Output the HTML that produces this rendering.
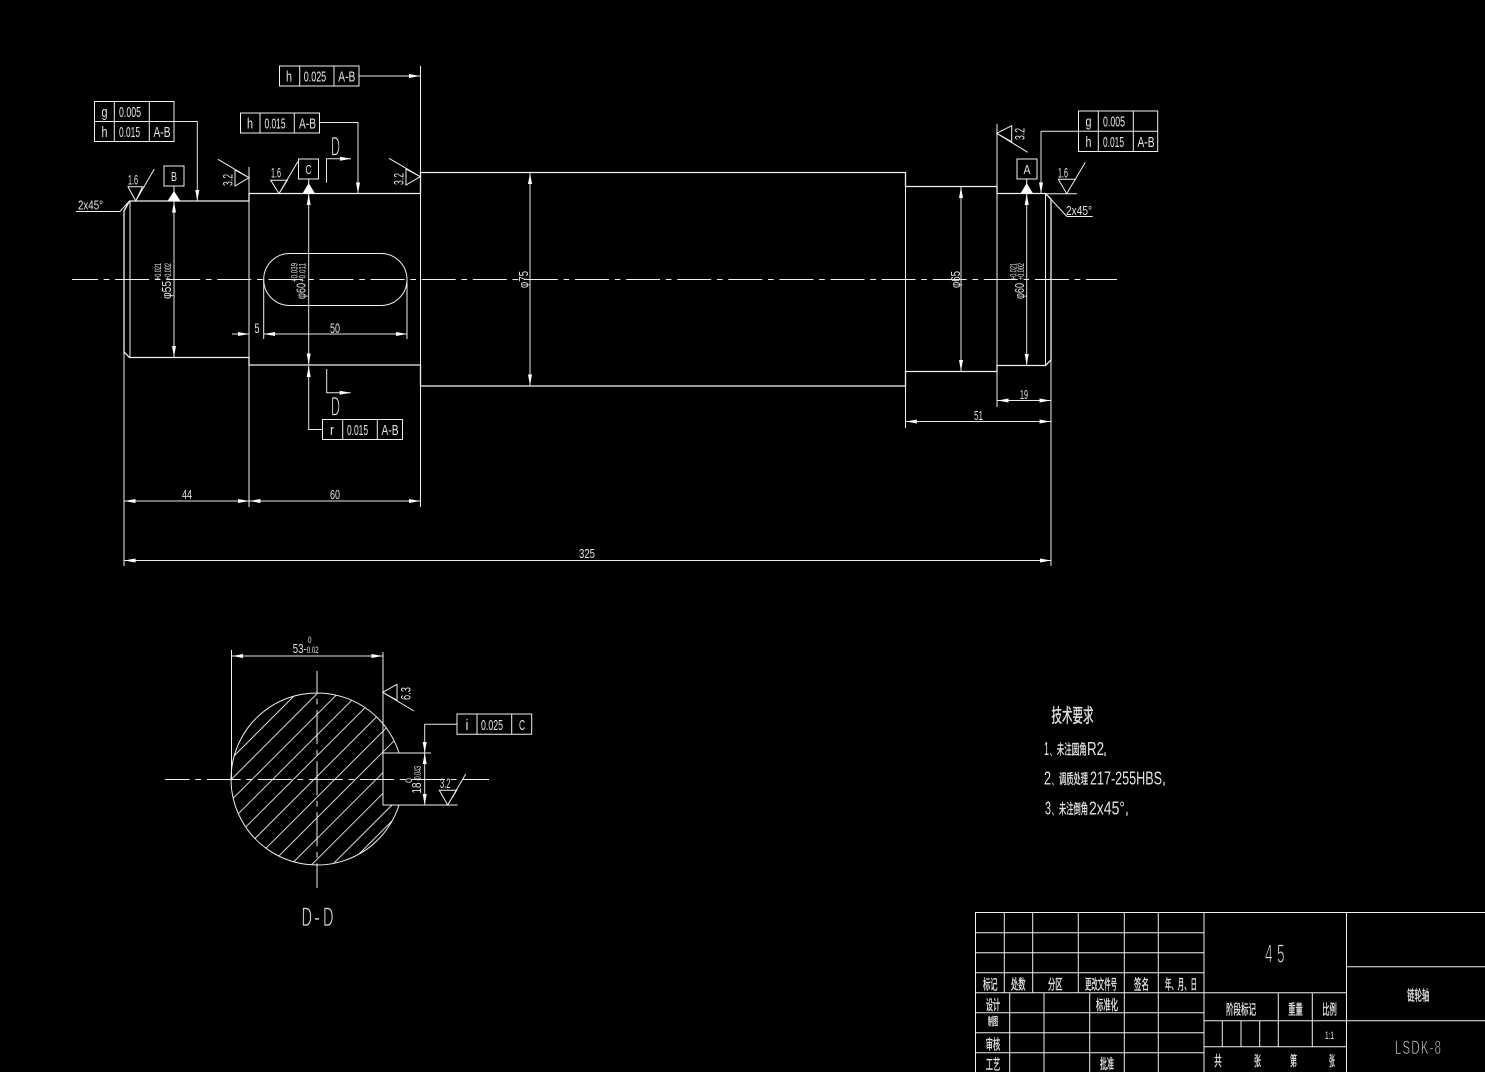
<!DOCTYPE html>
<html><head><meta charset="utf-8"><style>
html,body{margin:0;padding:0;background:#000;width:1485px;height:1072px;overflow:hidden}
svg{display:block}
text{font-family:"Liberation Sans","Noto Sans CJK SC",sans-serif;fill:#e4e4e4;stroke:none}
.l{stroke:#f0f0f0;stroke-width:1;fill:none}
.m{stroke:#f0f0f0;stroke-width:1.3;fill:none}
.c{stroke:#f0f0f0;stroke-width:1;fill:none;stroke-dasharray:34 5.7 5.7 5.7}
.h{stroke:#d8d8d8;stroke-width:1;fill:none}
.a{stroke:#e8e8e8;stroke-width:1;fill:none;marker-start:url(#ar);marker-end:url(#ar)}
.e{stroke:#e8e8e8;stroke-width:1;fill:none;marker-end:url(#ar)}
.f{fill:#fff;stroke:none}
.t{font-size:15px}.d{font-size:13px}.s{font-size:9px}
text.cn{font-size:14px;stroke:#e4e4e4;stroke-width:.35}
text.b{stroke:#000;stroke-width:.7}
</style></head><body>
<svg width="1485" height="1072" viewBox="0 0 1485 1072" xmlns="http://www.w3.org/2000/svg">
<defs>
<marker id="ar" markerUnits="userSpaceOnUse" markerWidth="12" markerHeight="6" refX="11" refY="3" orient="auto-start-reverse"><path d="M0 1L11 3L0 5z" fill="#fff"/></marker>
<clipPath id="sec"><path d="M399 753A86 86 0 1 0 399 805L383 805L383 753Z"/></clipPath>
</defs>

<!-- shaft outline -->
<path class="m" d="M124 211L129.5 201H249V193.5H420.5V172.5H905.5V186.5H997V193.5H1045.5L1051 199V360L1045.5 365.5H997V371.5H905.5V386H420.5V365H249V357.5H129.5L124 352Z"/>
<path class="l" d="M130 201V357.5M249 167V507M420.5 66V507M997 124V407M1045.5 194V365M905.5 172.5V428M124 352V566M1051 360V566M1051 199V360"/>
<rect class="l" x="263.7" y="253.5" width="143.3" height="52" rx="26" ry="26"/>
<path class="l" d="M263.7 279V339M407 279V339"/>
<line class="c" x1="72" y1="279.5" x2="1117" y2="279.5" stroke-dashoffset="8"/>

<!-- dimensions -->
<line class="a" x1="174" y1="201.5" x2="174" y2="357"/>
<line class="a" x1="308.7" y1="194" x2="308.7" y2="364.5"/>
<line class="a" x1="530" y1="173" x2="530" y2="385.5"/>
<line class="a" x1="961" y1="187" x2="961" y2="371"/>
<line class="a" x1="1026.7" y1="194" x2="1026.7" y2="365"/>
<line class="e" x1="232" y1="334" x2="249" y2="334"/>
<line class="a" x1="264" y1="334" x2="407" y2="334"/>
<line class="a" x1="124.5" y1="501" x2="249" y2="501"/>
<line class="a" x1="249.5" y1="501" x2="420" y2="501"/>
<line class="a" x1="124.5" y1="560.5" x2="1051" y2="560.5"/>
<line class="a" x1="997.5" y1="400.5" x2="1050.5" y2="400.5"/>
<line class="a" x1="906" y1="421.5" x2="1050.5" y2="421.5"/>

<text class="d" x="254.5" y="333" textLength="5" lengthAdjust="spacingAndGlyphs" style="font-size:14px">5</text>
<text class="d" x="330" y="333" textLength="10" lengthAdjust="spacingAndGlyphs" style="font-size:14px">50</text>
<text class="d" x="182" y="499" textLength="10" lengthAdjust="spacingAndGlyphs">44</text>
<text class="d" x="330" y="499" textLength="10" lengthAdjust="spacingAndGlyphs">60</text>
<text class="d" x="579" y="558" textLength="16" lengthAdjust="spacingAndGlyphs">325</text>
<text class="d" x="1020" y="399" textLength="8" lengthAdjust="spacingAndGlyphs">19</text>
<text class="d" x="974" y="420" textLength="9" lengthAdjust="spacingAndGlyphs">51</text>

<!-- rotated diameter labels -->
<text class="d" transform="translate(171,299) rotate(-90)" textLength="18" lengthAdjust="spacingAndGlyphs">φ55</text>
<text class="s" transform="translate(161,280) rotate(-90)" textLength="17" lengthAdjust="spacingAndGlyphs">+0.021</text>
<text class="s" transform="translate(171,280) rotate(-90)" textLength="17" lengthAdjust="spacingAndGlyphs">+0.002</text>
<text class="d" transform="translate(305.5,299) rotate(-90)" textLength="16" lengthAdjust="spacingAndGlyphs">φ60</text>
<text class="s" transform="translate(297.5,282) rotate(-90)" textLength="19" lengthAdjust="spacingAndGlyphs">+0.039</text>
<text class="s" transform="translate(305.5,282) rotate(-90)" textLength="19" lengthAdjust="spacingAndGlyphs">+0.011</text>
<text class="d" transform="translate(1024,299) rotate(-90)" textLength="16" lengthAdjust="spacingAndGlyphs">φ60</text>
<text class="s" transform="translate(1016.5,280) rotate(-90)" textLength="17" lengthAdjust="spacingAndGlyphs">+0.021</text>
<text class="s" transform="translate(1024,280) rotate(-90)" textLength="17" lengthAdjust="spacingAndGlyphs">+0.002</text>
<text class="d" transform="translate(528,288) rotate(-90)" textLength="17" lengthAdjust="spacingAndGlyphs">φ75</text>
<text class="d" transform="translate(960,288) rotate(-90)" textLength="17" lengthAdjust="spacingAndGlyphs">φ65</text>

<!-- frames -->
<path class="l" d="M279.5 66H359V86H279.5ZM299.7 66V86M334 66V86"/>
<line class="e" x1="359" y1="76" x2="420" y2="76"/>
<text class="t" x="286" y="81.5" textLength="6" lengthAdjust="spacingAndGlyphs">h</text>
<text class="t" x="303.7" y="81.5" textLength="22.5" lengthAdjust="spacingAndGlyphs">0.025</text>
<text class="t" x="338.3" y="81.5" textLength="17" lengthAdjust="spacingAndGlyphs">A-B</text>

<path class="l" d="M94.5 101.5H174V141.5H94.5ZM94.5 121.5H174M114.3 101.5V141.5M149.3 101.5V141.5"/>
<path class="e" d="M174 121.5H197.3V201"/>
<text class="t" x="101.5" y="117" textLength="6" lengthAdjust="spacingAndGlyphs">g</text>
<text class="t" x="119" y="117" textLength="22" lengthAdjust="spacingAndGlyphs">0.005</text>
<text class="t" x="101.5" y="137" textLength="6" lengthAdjust="spacingAndGlyphs">h</text>
<text class="t" x="119" y="137" textLength="21" lengthAdjust="spacingAndGlyphs">0.015</text>
<text class="t" x="153.5" y="137" textLength="17" lengthAdjust="spacingAndGlyphs">A-B</text>

<path class="l" d="M240.5 113H319.5V133H240.5ZM260 113V133M294.3 113V133"/>
<path class="e" d="M319.5 122.5H358V193.5"/>
<text class="t" x="247" y="128.5" textLength="6" lengthAdjust="spacingAndGlyphs">h</text>
<text class="t" x="264.5" y="128.5" textLength="21" lengthAdjust="spacingAndGlyphs">0.015</text>
<text class="t" x="299" y="128.5" textLength="17" lengthAdjust="spacingAndGlyphs">A-B</text>

<path class="l" d="M322.5 419.5H402.5V439.5H322.5ZM342.7 419.5V439.5M377.3 419.5V439.5"/>
<path class="e" d="M322.5 429.5H308.7V366"/>
<text class="t" x="330" y="435" textLength="4" lengthAdjust="spacingAndGlyphs">r</text>
<text class="t" x="347" y="435" textLength="21" lengthAdjust="spacingAndGlyphs">0.015</text>
<text class="t" x="381.5" y="435" textLength="17" lengthAdjust="spacingAndGlyphs">A-B</text>

<path class="l" d="M1078.5 111H1157.7V151.5H1078.5ZM1041 131.3H1157.7M1098.3 111V151.5M1133.3 111V151.5"/>
<path class="e" d="M1041 131.3V193.5"/>
<text class="t" x="1085.5" y="126.5" textLength="6" lengthAdjust="spacingAndGlyphs">g</text>
<text class="t" x="1103" y="126.5" textLength="22" lengthAdjust="spacingAndGlyphs">0.005</text>
<text class="t" x="1085.5" y="147" textLength="6" lengthAdjust="spacingAndGlyphs">h</text>
<text class="t" x="1103" y="147" textLength="21" lengthAdjust="spacingAndGlyphs">0.015</text>
<text class="t" x="1137.5" y="147" textLength="17" lengthAdjust="spacingAndGlyphs">A-B</text>

<!-- datums -->
<rect class="l" x="164" y="166" width="20" height="20"/>
<text class="d" x="171" y="181" textLength="6" lengthAdjust="spacingAndGlyphs">B</text>
<line class="l" x1="174" y1="186" x2="174" y2="192"/>
<path class="f" d="M174 191L180.5 201H167.5Z"/>
<rect class="l" x="298.5" y="159" width="20" height="20"/>
<text class="d" x="305.5" y="174" textLength="6" lengthAdjust="spacingAndGlyphs">C</text>
<line class="l" x1="308.7" y1="179" x2="308.7" y2="184"/>
<path class="f" d="M308.7 183L315 193.5H302.5Z"/>
<rect class="l" x="1017" y="159" width="20" height="20"/>
<text class="d" x="1023.5" y="174" textLength="7" lengthAdjust="spacingAndGlyphs">A</text>
<line class="l" x1="1026.7" y1="179" x2="1026.7" y2="184"/>
<path class="f" d="M1026.7 183L1033 193.5H1020.5Z"/>

<!-- roughness -->
<path class="l" d="M128 186.7H142.5L135.7 201ZM135.7 201L154.3 169"/>
<text class="d" x="128" y="184.5" textLength="10" lengthAdjust="spacingAndGlyphs" style="font-size:14px">1.6</text>
<path class="l" d="M249 177.7L235 170V186ZM249 177.7L218 159.3"/>
<text class="d" transform="translate(232.5,186) rotate(-90)" textLength="12" lengthAdjust="spacingAndGlyphs" style="font-size:14px">3.2</text>
<path class="l" d="M270.7 180.3H287.3L279 193.5ZM279 193.5L297.7 161.7"/>
<text class="d" x="271" y="177.5" textLength="10" lengthAdjust="spacingAndGlyphs" style="font-size:14px">1.6</text>
<path class="l" d="M420.3 176.7L406 169V185ZM420.3 176.7L389 158.3"/>
<text class="d" transform="translate(403.5,185) rotate(-90)" textLength="12" lengthAdjust="spacingAndGlyphs" style="font-size:14px">3.2</text>
<path class="l" d="M996.7 133.3L1011.7 125.7V141.7ZM996.7 133.3L1027.7 152.3"/>
<text class="d" transform="translate(1024.5,140) rotate(-90)" textLength="12" lengthAdjust="spacingAndGlyphs" style="font-size:14px">3.2</text>
<path class="l" d="M1058.3 179.3H1075.3L1066.7 193.7ZM1046 193.7H1077M1066.7 193.7L1085.3 162.3"/>
<text class="d" x="1058" y="177.5" textLength="10" lengthAdjust="spacingAndGlyphs" style="font-size:14px">1.6</text>

<!-- chamfer leaders -->
<path class="l" d="M76 211.5H120L129 201.5"/>
<text class="d" x="78" y="209.5" textLength="25" lengthAdjust="spacingAndGlyphs">2x45°</text>
<path class="l" d="M1046 194L1067 216.5H1092.7"/>
<text class="d" x="1066" y="215" textLength="26" lengthAdjust="spacingAndGlyphs">2x45°</text>

<!-- section marks -->
<path class="e" d="M326.5 182.7V158.7H351"/>
<text class="b" x="331" y="155.7" style="font-size:27px" textLength="9" lengthAdjust="spacingAndGlyphs">D</text>
<path class="e" d="M326.7 369V392.7H350.7"/>
<text class="b" x="331" y="415.5" style="font-size:27px" textLength="9" lengthAdjust="spacingAndGlyphs">D</text>

<!-- section view -->
<g clip-path="url(#sec)">
<path class="h" d="M390 600L90 900M410.7 600L110.7 900M431.4 600L131.4 900M452.1 600L152.1 900M472.8 600L172.8 900M493.5 600L193.5 900M514.2 600L214.2 900M534.9 600L234.9 900M555.6 600L255.6 900M576.3 600L276.3 900M597 600L297 900M613 600L313 900"/>
</g>
<path class="l" d="M399 753A86 86 0 1 0 399 805"/>
<path class="l" d="M431 753H383V805H457.6M231.5 650V779M383 652V753"/>
<line class="a" x1="232" y1="656" x2="382.5" y2="656"/>
<line class="c" x1="165" y1="779.5" x2="489" y2="779.5" stroke-dashoffset="9.4"/>
<line class="c" x1="317" y1="671" x2="317" y2="888" stroke-dashoffset="12"/>
<path class="e" d="M457 724.3H424.7V753"/>
<line class="a" x1="424.7" y1="753" x2="424.7" y2="805"/>
<path class="l" d="M457 714H531.7V734.3H457ZM477 714V734.3M511.7 714V734.3"/>
<text class="t" x="465.5" y="730" textLength="3" lengthAdjust="spacingAndGlyphs">i</text>
<text class="t" x="481" y="730" textLength="22" lengthAdjust="spacingAndGlyphs">0.025</text>
<text class="t" x="519" y="730" textLength="6" lengthAdjust="spacingAndGlyphs">C</text>
<text class="d" x="292.7" y="653" textLength="14" lengthAdjust="spacingAndGlyphs">53-</text>
<text class="s" x="308" y="643" textLength="3.5" lengthAdjust="spacingAndGlyphs">0</text>
<text class="s" x="306.7" y="653" textLength="12" lengthAdjust="spacingAndGlyphs">0.02</text>
<path class="l" d="M382.7 692.3L397 684.3V700.3ZM382.7 692.3L414 711"/>
<text class="d" transform="translate(410.5,700) rotate(-90)" textLength="13" lengthAdjust="spacingAndGlyphs" style="font-size:14px">6.3</text>
<path class="l" d="M439.3 790.3H456.7L447.7 805ZM447.7 805L465.7 774"/>
<text class="d" x="440" y="788" textLength="10.5" lengthAdjust="spacingAndGlyphs" style="font-size:14px">3.2</text>
<text class="d" transform="translate(421,793.5) rotate(-90)" textLength="11" lengthAdjust="spacingAndGlyphs">18</text>
<text class="s" transform="translate(421,781) rotate(-90)" textLength="15" lengthAdjust="spacingAndGlyphs" style="font-size:10px">-0.043</text>
<text class="s" transform="translate(412,783) rotate(-90)" textLength="5" lengthAdjust="spacingAndGlyphs">0</text>
<text class="b" x="301.5" y="926" style="font-size:27px" textLength="10.5" lengthAdjust="spacingAndGlyphs">D</text>
<text class="b" x="314" y="926" style="font-size:27px" textLength="6" lengthAdjust="spacingAndGlyphs">-</text>
<text class="b" x="323" y="926" style="font-size:27px" textLength="10.5" lengthAdjust="spacingAndGlyphs">D</text>

<!-- technical notes -->
<text class="cn" x="1051.5" y="722" style="font-size:19px" textLength="42" lengthAdjust="spacingAndGlyphs">技术要求</text>
<text x="1044" y="755" style="font-size:18px" textLength="5" lengthAdjust="spacingAndGlyphs">1</text>
<text class="cn" x="1050" y="755" textLength="5" lengthAdjust="spacingAndGlyphs" style="font-size:11px">、</text>
<text class="cn" x="1056.7" y="754.5" textLength="30" lengthAdjust="spacingAndGlyphs">未注圆角</text>
<text x="1087" y="755" style="font-size:18px" textLength="17" lengthAdjust="spacingAndGlyphs">R2</text>
<text class="cn" x="1104" y="755" textLength="5" lengthAdjust="spacingAndGlyphs" style="font-size:12px">。</text>
<text x="1044" y="784.5" style="font-size:18px" textLength="7" lengthAdjust="spacingAndGlyphs">2</text>
<text class="cn" x="1052" y="784.5" textLength="5" lengthAdjust="spacingAndGlyphs" style="font-size:11px">、</text>
<text class="cn" x="1059" y="784" textLength="29" lengthAdjust="spacingAndGlyphs">调质处理</text>
<text x="1090" y="784.5" style="font-size:18px" textLength="72" lengthAdjust="spacingAndGlyphs">217-255HBS</text>
<text class="cn" x="1163" y="784.5" textLength="5" lengthAdjust="spacingAndGlyphs" style="font-size:12px">。</text>
<text x="1045" y="814.5" style="font-size:18px" textLength="6" lengthAdjust="spacingAndGlyphs">3</text>
<text class="cn" x="1052" y="814.5" textLength="5" lengthAdjust="spacingAndGlyphs" style="font-size:11px">、</text>
<text class="cn" x="1059" y="814" textLength="29" lengthAdjust="spacingAndGlyphs">未注倒角</text>
<text x="1089" y="814.5" style="font-size:18px" textLength="36" lengthAdjust="spacingAndGlyphs">2x45°</text>
<text class="cn" x="1126" y="814.5" textLength="5" lengthAdjust="spacingAndGlyphs" style="font-size:12px">。</text>

<!-- title block -->
<path class="l" d="M975.5 1072V912.5H1485M975.5 932.7H1204M975.5 952.7H1204M975.5 972.7H1204M975.5 992.7H1346M975.5 1012.7H1204M975.5 1032.7H1204M975.5 1052.7H1204"/>
<path class="l" d="M1004.3 912.5V992.7M1032.7 912.5V992.7M1078.3 912.5V992.7M1124.3 912.5V1072M1158.3 912.5V1072M1204 912.5V1072M1009.7 992.7V1072M1044 992.7V1072M1089.7 992.7V1072"/>
<path class="l" d="M1346.5 912.5V1072M1204 1020.7H1485M1204 1046.7H1346.5M1346.5 966.7H1485M1278.3 992.7V1046.7M1312.3 992.7V1046.7M1222.3 1020.7V1046.7M1241 1020.7V1046.7M1259.7 1020.7V1046.7"/>

<text class="cn" x="983" y="989.5" textLength="14.5" lengthAdjust="spacingAndGlyphs">标记</text>
<text class="cn" x="1011" y="989.5" textLength="14.5" lengthAdjust="spacingAndGlyphs">处数</text>
<text class="cn" x="1048" y="989.5" textLength="14.5" lengthAdjust="spacingAndGlyphs">分区</text>
<text class="cn" x="1085" y="989.5" textLength="32" lengthAdjust="spacingAndGlyphs">更改文件号</text>
<text class="cn" x="1134" y="989.5" textLength="15" lengthAdjust="spacingAndGlyphs">签名</text>
<text class="cn" x="1165" y="989.5" textLength="32" lengthAdjust="spacingAndGlyphs">年、月、日</text>
<text class="cn" x="985.7" y="1010" textLength="14.5" lengthAdjust="spacingAndGlyphs">设计</text>
<text class="cn" x="988" y="1025" style="font-size:11px" textLength="10" lengthAdjust="spacingAndGlyphs">制图</text>
<text class="cn" x="985.7" y="1049.5" textLength="14.5" lengthAdjust="spacingAndGlyphs">审核</text>
<text class="cn" x="985.7" y="1069.5" textLength="14.5" lengthAdjust="spacingAndGlyphs">工艺</text>
<text class="cn" x="1096" y="1010" textLength="22" lengthAdjust="spacingAndGlyphs">标准化</text>
<text class="cn" x="1100" y="1069" textLength="14" lengthAdjust="spacingAndGlyphs">批准</text>
<text class="cn" x="1226" y="1014.5" textLength="30" lengthAdjust="spacingAndGlyphs">阶段标记</text>
<text class="cn" x="1288.3" y="1014.5" textLength="14.5" lengthAdjust="spacingAndGlyphs">重量</text>
<text class="cn" x="1322.3" y="1014.5" textLength="14.5" lengthAdjust="spacingAndGlyphs">比例</text>
<text class="d" x="1325" y="1039" textLength="9" lengthAdjust="spacingAndGlyphs" style="font-size:11px">1:1</text>
<text class="cn" x="1214.3" y="1066" textLength="7.5" lengthAdjust="spacingAndGlyphs">共</text>
<text class="cn" x="1254" y="1066" textLength="7" lengthAdjust="spacingAndGlyphs">张</text>
<text class="cn" x="1290" y="1066" textLength="7" lengthAdjust="spacingAndGlyphs">第</text>
<text class="cn" x="1329" y="1066" textLength="6" lengthAdjust="spacingAndGlyphs">张</text>
<text class="cn" x="1407.3" y="1000.5" textLength="22" lengthAdjust="spacingAndGlyphs">链轮轴</text>
<text class="b" x="1265" y="962.5" style="font-size:26px" textLength="7.5" lengthAdjust="spacingAndGlyphs">4</text>
<text class="b" x="1277" y="962.5" style="font-size:26px" textLength="7.5" lengthAdjust="spacingAndGlyphs">5</text>
<text class="b" transform="translate(1395,1054) scale(.6,1)" style="font-size:19px" textLength="76.7" lengthAdjust="spacing">LSDK-8</text>
</svg>
</body></html>
